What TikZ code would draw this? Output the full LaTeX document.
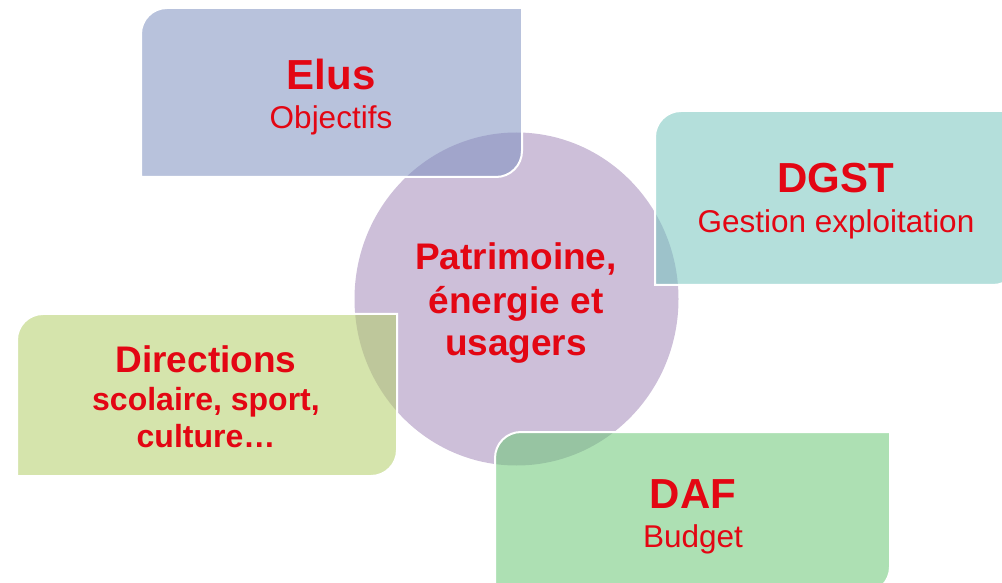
\documentclass[tikz,border=0pt]{standalone}
\usepackage{fontspec}
\setmainfont{Liberation Sans}
\definecolor{txtred}{RGB}{227,6,19}
\definecolor{circfill}{RGB}{205,191,217}
\definecolor{elusfill}{RGB}{128,146,193}
\definecolor{dgstfill}{RGB}{121,198,191}
\definecolor{dirfill}{RGB}{180,207,107}
\definecolor{daffill}{RGB}{109,200,120}
\tikzset{
  boxshape/.style={draw=white, line width=2pt, fill opacity=0.56},
  ttl/.style={anchor=base, text=txtred, inner sep=0pt, font=\bfseries\fontsize{42}{48}\selectfont},
  sub/.style={anchor=base, text=txtred, inner sep=0pt, font=\fontsize{31.5}{38}\selectfont},
  subbold/.style={anchor=base, text=txtred, inner sep=0pt, font=\bfseries\fontsize{32}{38}\selectfont},
  ctr/.style={anchor=base, text=txtred, inner sep=0pt, font=\bfseries\fontsize{37}{43}\selectfont}
}
\newcommand{\rbox}[6]{% x1 y1 x2 y2 r color
  \path[boxshape, fill=#6] (#1,#2) -- (#1,#4-#5) arc[start angle=180,end angle=90,radius=#5]
    -- (#3,#4) -- (#3,#2+#5) arc[start angle=0,end angle=-90,radius=#5] -- cycle;}
\begin{document}
\begin{tikzpicture}[x=1pt,y=1pt]
\path[use as bounding box, clip] (0,0) rectangle (1002,582);
% centre circle
\fill[circfill] (516.5,283) ellipse[x radius=162, y radius=166.5];
% boxes
\rbox{141}{405}{522}{574}{26}{elusfill}
\rbox{655}{297}{1019}{471}{26}{dgstfill}
\rbox{17}{106}{397}{268}{26}{dirfill}
\rbox{495}{-11}{890}{150}{26}{daffill}
% texts
\node[ttl] (elusT) at (331,492) {Elus};
\node[sub] (elusS) at (331,453) {Objectifs};
\node[ttl] (dgstT) at (836,389) {DGST};
\node[sub] (dgstS) at (836,349) {Gestion exploitation};
\node[ttl] (dafT) at (693,74) {DAF};
\node[sub] (dafS) at (693,35) {Budget};
\node[ctr] (dirT) at (206,210) {Directions};
\node[subbold] (dirS1) at (206,172) {scolaire, sport,};
\node[subbold] (dirS2) at (206,135) {culture…};
\node[ctr] (c1) at (516,312) {Patrimoine,};
\node[ctr] (c2) at (516,269) {énergie et};
\node[ctr] (c3) at (516,227) {usagers};
\end{tikzpicture}
\end{document}
